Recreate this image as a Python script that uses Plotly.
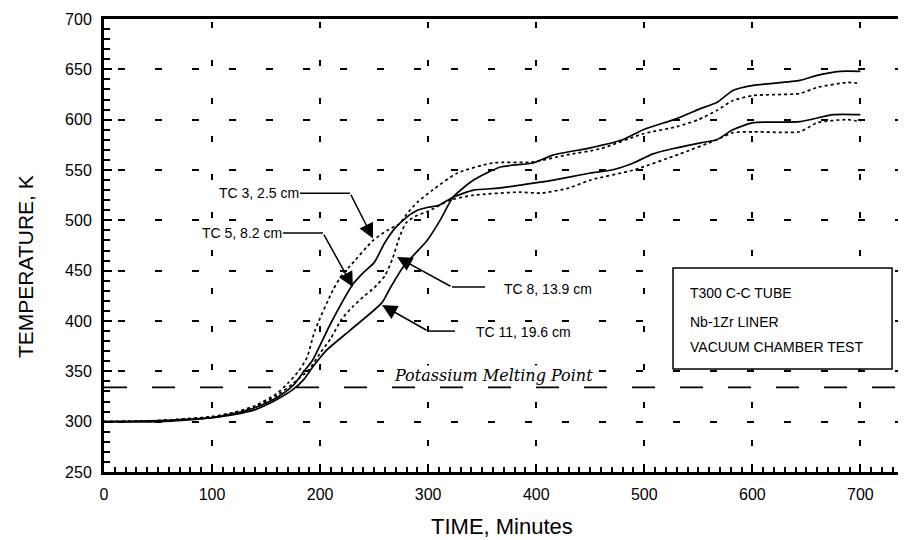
import plotly.graph_objects as go

# ---------------- data ----------------
time_tc3 = [0, 50, 100, 120, 140, 160, 170, 180, 188, 195, 212, 221, 228, 249, 262, 274, 280, 290, 304, 327,
            360, 397, 428, 459, 499, 530, 550, 567, 582, 601, 644, 660, 688, 700]
temp_tc3 = [300, 301, 305, 309, 316, 328, 338, 350, 364, 390, 431, 447, 455, 480, 490, 497, 506, 518, 530, 547,
            557, 558, 565, 571, 586, 593, 600, 609, 619, 624, 626, 632, 637, 636]

time_tc5 = [0, 50, 100, 120, 140, 160, 175, 185, 193, 210, 230, 240, 250, 260, 270, 280, 290, 300, 310, 323,
            342, 365, 385, 416, 450, 470, 490, 508, 530, 552, 567, 582, 601, 644, 675, 700]
temp_tc5 = [300, 301, 304, 308, 314, 324, 336, 350, 361, 398, 436, 448, 458, 478, 493, 503, 510, 513, 515, 523,
            530, 532, 535, 540, 547, 550, 557, 566, 572, 577, 580, 590, 597, 598, 605, 605]

time_tc8 = [0, 50, 100, 120, 140, 160, 175, 190, 200, 210, 220, 230, 240, 250, 260, 267, 274, 280, 290, 300,
            320, 342, 385, 404, 430, 450, 490, 533, 567, 582, 601, 644, 660, 688, 700]
temp_tc8 = [300, 301, 305, 309, 315, 326, 338, 352, 368, 383, 402, 414, 424, 433, 445, 462, 485, 498, 505, 509,
            520, 525, 528, 527, 532, 540, 550, 566, 580, 587, 588, 588, 597, 600, 598]

time_tc11 = [0, 50, 100, 120, 140, 160, 175, 185, 193, 206, 228, 257, 265, 277, 299, 311, 323, 342, 367, 397,
             416, 450, 480, 499, 530, 552, 567, 582, 601, 644, 660, 681, 700]
temp_tc11 = [300, 300, 304, 307, 312, 322, 332, 342, 354, 371, 391, 418, 433, 454, 480, 500, 523, 540, 553, 557,
             565, 572, 580, 590, 601, 611, 617, 629, 634, 639, 644, 648, 648]

potassium_melting_point = 334

x_ticks = [0, 100, 200, 300, 400, 500, 600, 700]
y_ticks = [250, 300, 350, 400, 450, 500, 550, 600, 650, 700]

series = [
    ("TC 3, 2.5 cm", time_tc3, temp_tc3, "dot"),
    ("TC 5, 8.2 cm", time_tc5, temp_tc5, "solid"),
    ("TC 8, 13.9 cm", time_tc8, temp_tc8, "dot"),
    ("TC 11, 19.6 cm", time_tc11, temp_tc11, "solid"),
]

SANS = "Arial, Liberation Sans, sans-serif"

fig = go.Figure()
for name, t, k, dash in series:
    fig.add_trace(go.Scatter(
        x=t, y=k, mode="lines", name=name, showlegend=False,
        line=dict(color="black", width=1.7, dash=dash, shape="spline", smoothing=0.6),
    ))

# potassium melting point line
fig.add_shape(type="line", xref="paper", x0=0, x1=1, yref="y",
              y0=potassium_melting_point, y1=potassium_melting_point,
              line=dict(color="black", width=1.8, dash="23px,25px"))
fig.add_annotation(x=360, y=346, xref="x", yref="y", text="<i>Potassium Melting Point</i>",
                   showarrow=False, bgcolor="white", borderpad=0,
                   font=dict(family="DejaVu Serif, Liberation Serif, serif", size=16, color="black"))

# callout labels: (text, text_x, text_y, anchor, horizontal segment x0, x1, knee, tip)
callouts = [
    ("TC 3, 2.5 cm", 181.4, 527, "right", 181.4, 227.7, (227.7, 527), (249, 482)),
    ("TC 5, 8.2 cm", 165.7, 487.3, "right", 165.7, 202.7, (202.7, 487.3), (230.4, 433.7)),
    ("TC 8, 13.9 cm", 369.3, 431.5, "left", 322, 352.6, (322, 433.7), (271.2, 463.5)),
    ("TC 11, 19.6 cm", 343.4, 389, "left", 299.9, 324.8, (299.9, 390), (257.3, 415.8)),
]
for text, tx, ty, anc, h0, h1, knee, tip in callouts:
    fig.add_annotation(x=tx, y=ty, xref="x", yref="y", text=text, showarrow=False,
                       xanchor=anc, bgcolor="white", borderpad=0,
                       font=dict(family=SANS, size=14, color="black"))
    fig.add_shape(type="line", xref="x", yref="y", x0=h0, x1=h1, y0=knee[1], y1=knee[1],
                  line=dict(color="black", width=1.5))
    fig.add_annotation(x=tip[0], y=tip[1], ax=knee[0], ay=knee[1], xref="x", yref="y",
                       axref="x", ayref="y", text="", showarrow=True, arrowhead=2,
                       arrowsize=2.0, arrowwidth=1.5, arrowcolor="black")

# info box
fig.add_shape(type="rect", xref="x", yref="y", x0=526.6, x1=729.3, y0=352.3, y1=452.6,
              line=dict(color="black", width=1.5), fillcolor="white", layer="above")
for txt, yy in [("T300 C-C TUBE", 427.8), ("Nb-1Zr LINER", 399), ("VACUUM CHAMBER TEST", 374.1)]:
    fig.add_annotation(x=540.5, y=yy, xref="x", yref="y", text=txt, showarrow=False,
                       xanchor="left", font=dict(family=SANS, size=14, color="black"))

# axis titles
fig.add_annotation(x=-0.0985, y=0.4525, xref="paper", yref="paper", text="TEMPERATURE, K",
                   textangle=-90, showarrow=False, xanchor="center", yanchor="middle",
                   font=dict(family=SANS, size=21, color="black"))
fig.add_annotation(x=0.496, y=-0.1214, xref="paper", yref="paper", text="TIME, Minutes",
                   showarrow=False, xanchor="center", yanchor="middle",
                   font=dict(family=SANS, size=22, color="black"))

axis_common = dict(
    showline=True, linecolor="black", linewidth=3,
    ticks="inside", tickcolor="black", tickwidth=2, ticklen=8,
    showgrid=True, gridcolor="black", gridwidth=1.5,
    zeroline=False, automargin=False,
    tickfont=dict(family=SANS, size=16, color="black"),
)

# page body has an 8px margin: figure is sized so that it fills the window from there
fig.update_layout(
    width=898, height=532,
    margin=dict(l=96, r=0, t=11, b=68),
    paper_bgcolor="white", plot_bgcolor="white",
    xaxis=dict(range=[0, 742.2], tickvals=x_ticks, mirror=True,
               griddash="0px,3px,6px,29px", ticklabelstandoff=6,
               minor=dict(dtick=10, ticks="inside", ticklen=5, tickwidth=1.5, tickcolor="black", showgrid=False),
               **axis_common),
    yaxis=dict(range=[250, 700], tickvals=y_ticks,
               griddash="0px,14px,7px,16px", ticklabelstandoff=6,
               minor=dict(dtick=10, ticks="inside", ticklen=6, tickwidth=1.5, tickcolor="black", showgrid=False),
               **axis_common),
)

fig.write_html("out.html")
